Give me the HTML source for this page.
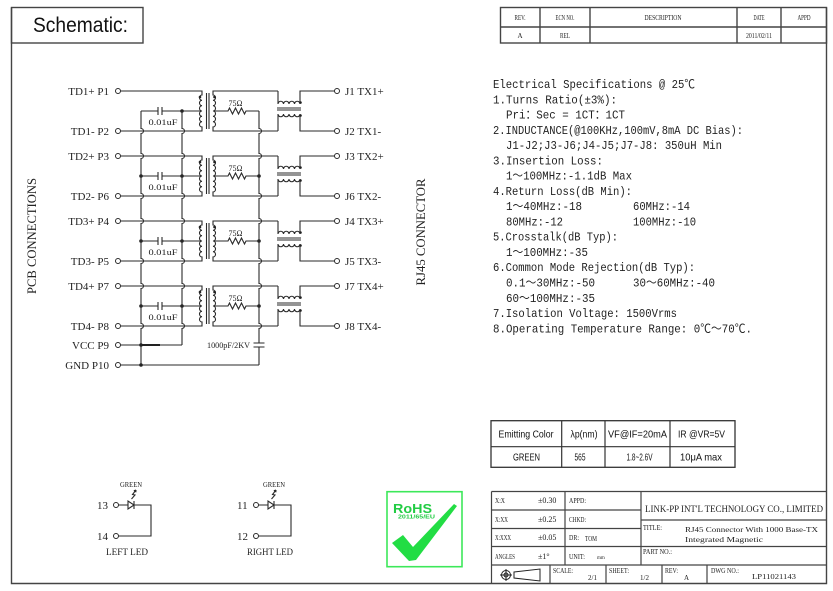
<!DOCTYPE html>
<html><head><meta charset="utf-8"><style>
html,body{margin:0;padding:0;background:#fff;}
svg{display:block;}
.s{font-family:"Liberation Serif","Noto Serif CJK SC",serif;fill:#222;}
.m{font-family:"Liberation Mono","Noto Sans CJK SC",monospace;fill:#222;font-size:12px;}
.a{font-family:"Liberation Sans","Noto Sans CJK SC",sans-serif;fill:#111;}
.ln{fill:none;stroke:#2a2a2a;stroke-width:1.1;}
.fr{fill:none;stroke:#444;stroke-width:1.4;}
</style></head><body>
<svg width="833" height="591" viewBox="0 0 833 591" xmlns="http://www.w3.org/2000/svg">
<rect width="833" height="591" fill="#fff"/>
<!-- Frame -->
<path class="fr" d="M11.5 7.5 V583.5 H826.5 V7.5"/>
<rect class="fr" x="11.5" y="7.5" width="131.5" height="35.5"/>
<text class="a" x="33" y="32" font-size="21" textLength="95" lengthAdjust="spacingAndGlyphs">Schematic:</text>
<!-- Rev table -->
<rect class="fr" x="500.5" y="7.5" width="326" height="35.5"/>
<path class="fr" d="M500.5 27 H826.5 M540 7.5 V43 M590 7.5 V43 M737 7.5 V43 M781 7.5 V43"/>
<g class="s" font-size="7" text-anchor="middle">
<text x="520" y="20" textLength="11" lengthAdjust="spacingAndGlyphs">REV.</text>
<text x="565" y="20" textLength="19" lengthAdjust="spacingAndGlyphs">ECN NO.</text>
<text x="663" y="20" textLength="37" lengthAdjust="spacingAndGlyphs">DESCRIPTION</text>
<text x="759" y="20" textLength="11" lengthAdjust="spacingAndGlyphs">DATE</text>
<text x="804" y="20" textLength="13" lengthAdjust="spacingAndGlyphs">APPD</text>
<text x="520" y="38">A</text>
<text x="565" y="38" textLength="10" lengthAdjust="spacingAndGlyphs">REL</text>
<text x="759" y="38" textLength="26" lengthAdjust="spacingAndGlyphs">2011/02/11</text>
</g>

<!-- Vertical labels -->
<text class="s" font-size="12.5" text-anchor="middle" transform="translate(36,236) rotate(-90)" textLength="116" lengthAdjust="spacingAndGlyphs">PCB CONNECTIONS</text>
<text class="s" font-size="12.5" text-anchor="middle" transform="translate(425,232) rotate(-90)" textLength="107" lengthAdjust="spacingAndGlyphs">RJ45 CONNECTOR</text>

<!-- Channel template repeated -->
<g id="ch0">
<path class="ln" d="M120.5 91 H202 V95 a2.67 2.67 0 0 0 0 5.33 a2.67 2.67 0 0 0 0 5.33 a2.67 2.67 0 0 0 0 5.33 a2.67 2.67 0 0 0 0 5.33 a2.67 2.67 0 0 0 0 5.33 a2.67 2.67 0 0 0 0 5.33 V131 H120.5"/>
<path class="ln" d="M278 91 H213 V95 a2.67 2.67 0 0 1 0 5.33 a2.67 2.67 0 0 1 0 5.33 a2.67 2.67 0 0 1 0 5.33 a2.67 2.67 0 0 1 0 5.33 a2.67 2.67 0 0 1 0 5.33 a2.67 2.67 0 0 1 0 5.33 V131 H278"/>
<path class="ln" d="M278 91 V104 a2.75 2.75 0 0 1 5.5 0 a2.75 2.75 0 0 1 5.5 0 a2.75 2.75 0 0 1 5.5 0 a2.75 2.75 0 0 1 5.5 0 V91 H334.5"/>
<path class="ln" d="M278 131 V114 a2.75 2.75 0 0 0 5.5 0 a2.75 2.75 0 0 0 5.5 0 a2.75 2.75 0 0 0 5.5 0 a2.75 2.75 0 0 0 5.5 0 V131 H334.5"/>
<path class="ln" d="M277 108 H301 M277 110 H301 M206.5 93 V129 M209 93 V129"/>
<path class="ln" d="M202 111 H162 M158 111 H141 M158 107 V115 M162 107 V115"/>
<path class="ln" d="M213 111 H228 l1.5 -3 l3 6 l3 -6 l3 6 l3 -6 l3 6 l1.5 -3 H259"/>
<g fill="#fff" stroke="#2a2a2a" stroke-width="1">
<circle cx="118" cy="91" r="2.5"/><circle cx="118" cy="131" r="2.5"/>
<circle cx="337" cy="91" r="2.5"/><circle cx="337" cy="131" r="2.5"/>
</g>
<g fill="#222">
<circle cx="182" cy="111" r="1.8"/>
<circle cx="200" cy="97" r="1.3"/><circle cx="214.5" cy="97" r="1.3"/>
<circle cx="300.5" cy="102.5" r="1.3"/><circle cx="300.5" cy="115.5" r="1.3"/>
</g>
<text class="s" x="235.5" y="106" font-size="8" text-anchor="middle">75Ω</text>
<text class="s" x="163" y="125" font-size="8" text-anchor="middle" textLength="29" lengthAdjust="spacingAndGlyphs">0.01uF</text>
</g>
<g transform="translate(0,65)">
<path class="ln" d="M120.5 91 H202 V95 a2.67 2.67 0 0 0 0 5.33 a2.67 2.67 0 0 0 0 5.33 a2.67 2.67 0 0 0 0 5.33 a2.67 2.67 0 0 0 0 5.33 a2.67 2.67 0 0 0 0 5.33 a2.67 2.67 0 0 0 0 5.33 V131 H120.5"/>
<path class="ln" d="M278 91 H213 V95 a2.67 2.67 0 0 1 0 5.33 a2.67 2.67 0 0 1 0 5.33 a2.67 2.67 0 0 1 0 5.33 a2.67 2.67 0 0 1 0 5.33 a2.67 2.67 0 0 1 0 5.33 a2.67 2.67 0 0 1 0 5.33 V131 H278"/>
<path class="ln" d="M278 91 V104 a2.75 2.75 0 0 1 5.5 0 a2.75 2.75 0 0 1 5.5 0 a2.75 2.75 0 0 1 5.5 0 a2.75 2.75 0 0 1 5.5 0 V91 H334.5"/>
<path class="ln" d="M278 131 V114 a2.75 2.75 0 0 0 5.5 0 a2.75 2.75 0 0 0 5.5 0 a2.75 2.75 0 0 0 5.5 0 a2.75 2.75 0 0 0 5.5 0 V131 H334.5"/>
<path class="ln" d="M277 108 H301 M277 110 H301 M206.5 93 V129 M209 93 V129"/>
<path class="ln" d="M202 111 H162 M158 111 H141 M158 107 V115 M162 107 V115"/>
<path class="ln" d="M213 111 H228 l1.5 -3 l3 6 l3 -6 l3 6 l3 -6 l3 6 l1.5 -3 H259"/>
<g fill="#fff" stroke="#2a2a2a" stroke-width="1">
<circle cx="118" cy="91" r="2.5"/><circle cx="118" cy="131" r="2.5"/>
<circle cx="337" cy="91" r="2.5"/><circle cx="337" cy="131" r="2.5"/>
</g>
<g fill="#222">
<circle cx="182" cy="111" r="1.8"/><circle cx="141" cy="111" r="1.8"/><circle cx="259" cy="111" r="1.8"/>
<circle cx="200" cy="97" r="1.3"/><circle cx="214.5" cy="97" r="1.3"/>
<circle cx="300.5" cy="102.5" r="1.3"/><circle cx="300.5" cy="115.5" r="1.3"/>
</g>
<text class="s" x="235.5" y="106" font-size="8" text-anchor="middle">75Ω</text>
<text class="s" x="163" y="125" font-size="8" text-anchor="middle" textLength="29" lengthAdjust="spacingAndGlyphs">0.01uF</text>
</g>
<g transform="translate(0,130)">
<path class="ln" d="M120.5 91 H202 V95 a2.67 2.67 0 0 0 0 5.33 a2.67 2.67 0 0 0 0 5.33 a2.67 2.67 0 0 0 0 5.33 a2.67 2.67 0 0 0 0 5.33 a2.67 2.67 0 0 0 0 5.33 a2.67 2.67 0 0 0 0 5.33 V131 H120.5"/>
<path class="ln" d="M278 91 H213 V95 a2.67 2.67 0 0 1 0 5.33 a2.67 2.67 0 0 1 0 5.33 a2.67 2.67 0 0 1 0 5.33 a2.67 2.67 0 0 1 0 5.33 a2.67 2.67 0 0 1 0 5.33 a2.67 2.67 0 0 1 0 5.33 V131 H278"/>
<path class="ln" d="M278 91 V104 a2.75 2.75 0 0 1 5.5 0 a2.75 2.75 0 0 1 5.5 0 a2.75 2.75 0 0 1 5.5 0 a2.75 2.75 0 0 1 5.5 0 V91 H334.5"/>
<path class="ln" d="M278 131 V114 a2.75 2.75 0 0 0 5.5 0 a2.75 2.75 0 0 0 5.5 0 a2.75 2.75 0 0 0 5.5 0 a2.75 2.75 0 0 0 5.5 0 V131 H334.5"/>
<path class="ln" d="M277 108 H301 M277 110 H301 M206.5 93 V129 M209 93 V129"/>
<path class="ln" d="M202 111 H162 M158 111 H141 M158 107 V115 M162 107 V115"/>
<path class="ln" d="M213 111 H228 l1.5 -3 l3 6 l3 -6 l3 6 l3 -6 l3 6 l1.5 -3 H259"/>
<g fill="#fff" stroke="#2a2a2a" stroke-width="1">
<circle cx="118" cy="91" r="2.5"/><circle cx="118" cy="131" r="2.5"/>
<circle cx="337" cy="91" r="2.5"/><circle cx="337" cy="131" r="2.5"/>
</g>
<g fill="#222">
<circle cx="182" cy="111" r="1.8"/><circle cx="141" cy="111" r="1.8"/><circle cx="259" cy="111" r="1.8"/>
<circle cx="200" cy="97" r="1.3"/><circle cx="214.5" cy="97" r="1.3"/>
<circle cx="300.5" cy="102.5" r="1.3"/><circle cx="300.5" cy="115.5" r="1.3"/>
</g>
<text class="s" x="235.5" y="106" font-size="8" text-anchor="middle">75Ω</text>
<text class="s" x="163" y="125" font-size="8" text-anchor="middle" textLength="29" lengthAdjust="spacingAndGlyphs">0.01uF</text>
</g>
<g transform="translate(0,195)">
<path class="ln" d="M120.5 91 H202 V95 a2.67 2.67 0 0 0 0 5.33 a2.67 2.67 0 0 0 0 5.33 a2.67 2.67 0 0 0 0 5.33 a2.67 2.67 0 0 0 0 5.33 a2.67 2.67 0 0 0 0 5.33 a2.67 2.67 0 0 0 0 5.33 V131 H120.5"/>
<path class="ln" d="M278 91 H213 V95 a2.67 2.67 0 0 1 0 5.33 a2.67 2.67 0 0 1 0 5.33 a2.67 2.67 0 0 1 0 5.33 a2.67 2.67 0 0 1 0 5.33 a2.67 2.67 0 0 1 0 5.33 a2.67 2.67 0 0 1 0 5.33 V131 H278"/>
<path class="ln" d="M278 91 V104 a2.75 2.75 0 0 1 5.5 0 a2.75 2.75 0 0 1 5.5 0 a2.75 2.75 0 0 1 5.5 0 a2.75 2.75 0 0 1 5.5 0 V91 H334.5"/>
<path class="ln" d="M278 131 V114 a2.75 2.75 0 0 0 5.5 0 a2.75 2.75 0 0 0 5.5 0 a2.75 2.75 0 0 0 5.5 0 a2.75 2.75 0 0 0 5.5 0 V131 H334.5"/>
<path class="ln" d="M277 108 H301 M277 110 H301 M206.5 93 V129 M209 93 V129"/>
<path class="ln" d="M202 111 H162 M158 111 H141 M158 107 V115 M162 107 V115"/>
<path class="ln" d="M213 111 H228 l1.5 -3 l3 6 l3 -6 l3 6 l3 -6 l3 6 l1.5 -3 H259"/>
<g fill="#fff" stroke="#2a2a2a" stroke-width="1">
<circle cx="118" cy="91" r="2.5"/><circle cx="118" cy="131" r="2.5"/>
<circle cx="337" cy="91" r="2.5"/><circle cx="337" cy="131" r="2.5"/>
</g>
<g fill="#222">
<circle cx="182" cy="111" r="1.8"/><circle cx="141" cy="111" r="1.8"/><circle cx="259" cy="111" r="1.8"/>
<circle cx="200" cy="97" r="1.3"/><circle cx="214.5" cy="97" r="1.3"/>
<circle cx="300.5" cy="102.5" r="1.3"/><circle cx="300.5" cy="115.5" r="1.3"/>
</g>
<text class="s" x="235.5" y="106" font-size="8" text-anchor="middle">75Ω</text>
<text class="s" x="163" y="125" font-size="8" text-anchor="middle" textLength="29" lengthAdjust="spacingAndGlyphs">0.01uF</text>
</g>

<!-- Buses -->
<path class="ln" d="M141 111 V128.5 a2.5 2.5 0 0 1 0 5 V153.5 a2.5 2.5 0 0 1 0 5 V193.5 a2.5 2.5 0 0 1 0 5 V218.5 a2.5 2.5 0 0 1 0 5 V258.5 a2.5 2.5 0 0 1 0 5 V283.5 a2.5 2.5 0 0 1 0 5 V323.5 a2.5 2.5 0 0 1 0 5 V365"/>
<path class="ln" d="M182 111 V128.5 a2.5 2.5 0 0 1 0 5 V153.5 a2.5 2.5 0 0 1 0 5 V193.5 a2.5 2.5 0 0 1 0 5 V218.5 a2.5 2.5 0 0 1 0 5 V258.5 a2.5 2.5 0 0 1 0 5 V283.5 a2.5 2.5 0 0 1 0 5 V323.5 a2.5 2.5 0 0 1 0 5 V345"/>
<path class="ln" d="M259 111 V128.5 a2.5 2.5 0 0 1 0 5 V153.5 a2.5 2.5 0 0 1 0 5 V193.5 a2.5 2.5 0 0 1 0 5 V218.5 a2.5 2.5 0 0 1 0 5 V258.5 a2.5 2.5 0 0 1 0 5 V283.5 a2.5 2.5 0 0 1 0 5 V323.5 a2.5 2.5 0 0 1 0 5 V343 M259 347 V365"/>
<path class="ln" d="M253.5 343 H264.5 M253.5 347 H264.5"/>
<path class="ln" d="M120.5 345 H182 M120.5 365 H259"/>
<path d="M141 345 H160" stroke="#222" stroke-width="2"/>
<g fill="#222"><circle cx="141" cy="345" r="1.8"/><circle cx="141" cy="365" r="1.8"/></g>
<g fill="#fff" stroke="#2a2a2a" stroke-width="1"><circle cx="118" cy="345" r="2.5"/><circle cx="118" cy="365" r="2.5"/></g>
<text class="s" x="250" y="348" font-size="8" text-anchor="end" textLength="43" lengthAdjust="spacingAndGlyphs">1000pF/2KV</text>

<!-- Left labels -->
<g class="s" font-size="11" text-anchor="end">
<text x="109" y="95">TD1+ P1</text>
<text x="109" y="135">TD1- P2</text>
<text x="109" y="160">TD2+ P3</text>
<text x="109" y="200">TD2- P6</text>
<text x="109" y="225">TD3+ P4</text>
<text x="109" y="265">TD3- P5</text>
<text x="109" y="290">TD4+ P7</text>
<text x="109" y="330">TD4- P8</text>
<text x="109" y="349">VCC P9</text>
<text x="109" y="369">GND P10</text>
</g>
<!-- Right labels -->
<g class="s" font-size="11">
<text x="345" y="95">J1 TX1+</text>
<text x="345" y="135">J2 TX1-</text>
<text x="345" y="160">J3 TX2+</text>
<text x="345" y="200">J6 TX2-</text>
<text x="345" y="225">J4 TX3+</text>
<text x="345" y="265">J5 TX3-</text>
<text x="345" y="290">J7 TX4+</text>
<text x="345" y="330">J8 TX4-</text>
</g>

<!-- Specs -->
<g class="m" lengthAdjust="spacingAndGlyphs">
<text x="493" y="88" textLength="202" lengthAdjust="spacingAndGlyphs">Electrical Specifications @ 25℃</text>
<text x="493" y="103.3" textLength="124" lengthAdjust="spacingAndGlyphs">1.Turns Ratio(±3%):</text>
<text x="506" y="118.5" textLength="119" lengthAdjust="spacingAndGlyphs">Pri：Sec = 1CT：1CT</text>
<text x="493" y="133.8" textLength="250" lengthAdjust="spacingAndGlyphs">2.INDUCTANCE(@100KHz,100mV,8mA DC Bias):</text>
<text x="506" y="149.1" textLength="216" lengthAdjust="spacingAndGlyphs">J1-J2;J3-J6;J4-J5;J7-J8: 350uH Min</text>
<text x="493" y="164.4" textLength="110" lengthAdjust="spacingAndGlyphs">3.Insertion Loss:</text>
<text x="506" y="179.6" textLength="126" lengthAdjust="spacingAndGlyphs">1～100MHz:-1.1dB Max</text>
<text x="493" y="194.9" textLength="139" lengthAdjust="spacingAndGlyphs">4.Return Loss(dB Min):</text>
<text x="506" y="210.2" textLength="76" lengthAdjust="spacingAndGlyphs">1～40MHz:-18</text>
<text x="633" y="210.2" textLength="57" lengthAdjust="spacingAndGlyphs">60MHz:-14</text>
<text x="506" y="225.4" textLength="57" lengthAdjust="spacingAndGlyphs">80MHz:-12</text>
<text x="633" y="225.4" textLength="63" lengthAdjust="spacingAndGlyphs">100MHz:-10</text>
<text x="493" y="240.7" textLength="125" lengthAdjust="spacingAndGlyphs">5.Crosstalk(dB Typ):</text>
<text x="506" y="256" textLength="82" lengthAdjust="spacingAndGlyphs">1～100MHz:-35</text>
<text x="493" y="271.2" textLength="202" lengthAdjust="spacingAndGlyphs">6.Common Mode Rejection(dB Typ):</text>
<text x="506" y="286.5" textLength="89" lengthAdjust="spacingAndGlyphs">0.1～30MHz:-50</text>
<text x="633" y="286.5" textLength="82" lengthAdjust="spacingAndGlyphs">30～60MHz:-40</text>
<text x="506" y="301.8" textLength="89" lengthAdjust="spacingAndGlyphs">60～100MHz:-35</text>
<text x="493" y="317" textLength="184" lengthAdjust="spacingAndGlyphs">7.Isolation Voltage: 1500Vrms</text>
<text x="493" y="332.3" textLength="259" lengthAdjust="spacingAndGlyphs">8.Operating Temperature Range: 0℃～70℃.</text>
</g>

<!-- LED table -->
<rect x="491" y="420.7" width="244" height="46.6" fill="none" stroke="#333" stroke-width="1.3"/>
<path d="M491 446.7 H735 M561.7 420.7 V467.3 M605 420.7 V467.3 M670 420.7 V467.3" stroke="#333" stroke-width="1.2" fill="none"/>
<g class="a" font-size="10.5" text-anchor="middle">
<text x="526" y="437.5" textLength="55" lengthAdjust="spacingAndGlyphs">Emitting Color</text>
<text x="584" y="437.5" textLength="27" lengthAdjust="spacingAndGlyphs">λp(nm)</text>
<text x="637.5" y="437.5" textLength="59" lengthAdjust="spacingAndGlyphs">VF@IF=20mA</text>
<text x="701.5" y="437.5" textLength="47" lengthAdjust="spacingAndGlyphs">IR @VR=5V</text>
<text x="526.5" y="460.5" textLength="27" lengthAdjust="spacingAndGlyphs">GREEN</text>
<text x="580" y="460.5" textLength="11" lengthAdjust="spacingAndGlyphs">565</text>
<text x="639.5" y="460.5" textLength="26" lengthAdjust="spacingAndGlyphs">1.8~2.6V</text>
<text x="701" y="460.5" textLength="42" lengthAdjust="spacingAndGlyphs">10μA max</text>
</g>

<!-- Title block -->
<g fill="none" stroke="#444" stroke-width="1.2">
<path d="M491.5 491.5 H826.5 M491.5 491.5 V583.5"/>
<path d="M565 491.5 V565 M641 491.5 V565"/>
<path d="M491.5 510 H641 M491.5 528.5 H641 M491.5 546.5 H641 M491.5 565 H826.5"/>
<path d="M641 520 H826.5 M641 546.5 H826.5"/>
<path d="M550 565 V583.5 M606 565 V583.5 M662 565 V583.5 M707 565 V583.5"/>
</g>
<g class="s" font-size="7" fill="#333">
<text x="495" y="503" textLength="10" lengthAdjust="spacingAndGlyphs">X:X</text>
<text x="538" y="503" font-size="8">±0.30</text>
<text x="495" y="522" textLength="13" lengthAdjust="spacingAndGlyphs">X:XX</text>
<text x="538" y="522" font-size="8">±0.25</text>
<text x="495" y="540" textLength="16" lengthAdjust="spacingAndGlyphs">X:XXX</text>
<text x="538" y="540" font-size="8">±0.05</text>
<text x="495" y="559" textLength="20" lengthAdjust="spacingAndGlyphs">ANGLES</text>
<text x="538" y="559" font-size="8">±1°</text>
<text x="569" y="503" textLength="17" lengthAdjust="spacingAndGlyphs">APPD:</text>
<text x="569" y="522" textLength="17" lengthAdjust="spacingAndGlyphs">CHKD:</text>
<text x="569" y="540" textLength="10" lengthAdjust="spacingAndGlyphs">DR:</text>
<text x="585" y="541" textLength="12" lengthAdjust="spacingAndGlyphs">TOM</text>
<text x="569" y="559" textLength="16" lengthAdjust="spacingAndGlyphs">UNIT:</text>
<text x="597" y="559" font-size="5">mm</text>
<text x="645" y="512" font-size="9.5" textLength="178" lengthAdjust="spacingAndGlyphs">LINK-PP INT'L TECHNOLOGY CO., LIMITED</text>
<text x="643" y="530" textLength="19" lengthAdjust="spacingAndGlyphs">TITLE:</text>
<text x="685" y="532" font-size="7.5" textLength="133" lengthAdjust="spacingAndGlyphs">RJ45 Connector With 1000 Base-TX</text>
<text x="685" y="542" font-size="7.5" textLength="78" lengthAdjust="spacingAndGlyphs">Integrated Magnetic</text>
<text x="643" y="554" textLength="29" lengthAdjust="spacingAndGlyphs">PART NO.:</text>
<text x="553" y="573" textLength="20" lengthAdjust="spacingAndGlyphs">SCALE:</text>
<text x="588" y="580">2/1</text>
<text x="609" y="573" textLength="20" lengthAdjust="spacingAndGlyphs">SHEET:</text>
<text x="640" y="580">1/2</text>
<text x="665" y="573" textLength="13" lengthAdjust="spacingAndGlyphs">REV:</text>
<text x="684" y="580">A</text>
<text x="711" y="573" textLength="28" lengthAdjust="spacingAndGlyphs">DWG NO.:</text>
<text x="752" y="579" font-size="7.5" textLength="44" lengthAdjust="spacingAndGlyphs">LP11021143</text>
</g>
<!-- projection symbol -->
<g fill="none" stroke="#222" stroke-width="1">
<circle cx="506" cy="575" r="4.5"/><circle cx="506" cy="575" r="2"/>
<path d="M500 575 H512 M506 569 V581"/>
<path d="M514 572 L540 569 V581 L514 578 Z"/>
</g>

<!-- LEDs -->
<g class="s" font-size="7" text-anchor="middle">
<text x="131" y="487" textLength="22" lengthAdjust="spacingAndGlyphs">GREEN</text>
<text x="274" y="487" textLength="22" lengthAdjust="spacingAndGlyphs">GREEN</text>
</g>
<g class="s" font-size="11">
<text x="97" y="509">13</text>
<text x="97" y="540">14</text>
<text x="237" y="509">11</text>
<text x="237" y="540">12</text>
</g>
<g class="s" font-size="9" text-anchor="middle">
<text x="127" y="555" textLength="42" lengthAdjust="spacingAndGlyphs">LEFT LED</text>
<text x="270" y="555" textLength="46" lengthAdjust="spacingAndGlyphs">RIGHT LED</text>
</g>
<g class="ln">
<path d="M118.5 505 H128 M128 501 V509 L134 505 Z M134 501 V509 M134 505 H151 V536 H118.5"/>
<path d="M131.5 499 L135 495 L132.5 494.5 L136 490 M136 490 l-2.2 0.8 M136 490 l-0.2 2.3"/>
<path d="M258.5 505 H268 M268 501 V509 L274 505 Z M274 501 V509 M274 505 H291 V536 H258.5"/>
<path d="M271.5 499 L275 495 L272.5 494.5 L276 490 M276 490 l-2.2 0.8 M276 490 l-0.2 2.3"/>
</g>
<g fill="#fff" stroke="#2a2a2a" stroke-width="1">
<circle cx="116" cy="505" r="2.5"/><circle cx="116" cy="536" r="2.5"/>
<circle cx="256" cy="505" r="2.5"/><circle cx="256" cy="536" r="2.5"/>
</g>

<!-- RoHS -->
<rect x="387" y="491.7" width="75" height="75" fill="none" stroke="#3de85a" stroke-width="1.6"/>
<text x="393" y="513" font-family="Liberation Sans, sans-serif" font-weight="bold" font-size="13" fill="#22cc44" textLength="39" lengthAdjust="spacingAndGlyphs">RoHS</text>
<text x="398" y="518.5" font-family="Liberation Sans, sans-serif" font-weight="bold" font-size="5" fill="#22cc44" textLength="37" lengthAdjust="spacingAndGlyphs">2011/65/EU</text>
<polygon points="392,543 403,535 413,547 454,504 457,506 416,560 409,561" fill="#22dd44"/>
</svg>
</body></html>
